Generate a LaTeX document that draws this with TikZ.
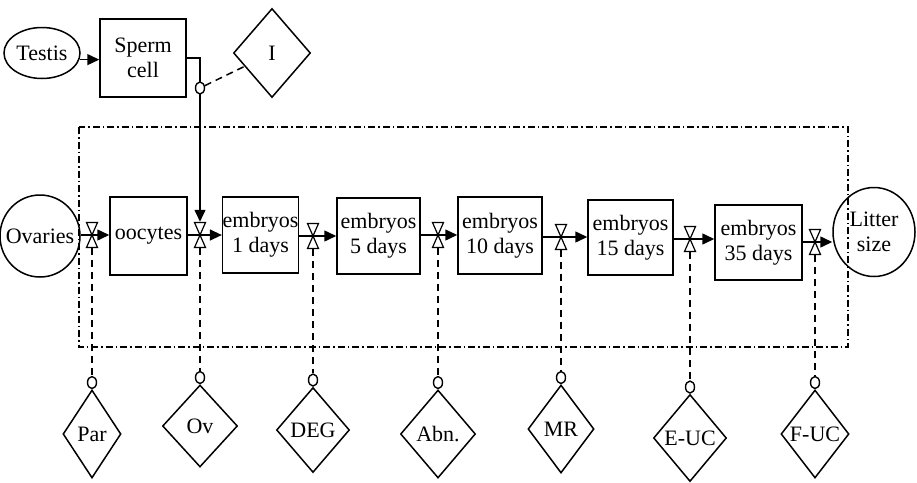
\documentclass[tikz,border=0pt]{standalone}
\usepackage{fontspec}
\setmainfont{Liberation Serif}
\usetikzlibrary{shapes.geometric,arrows.meta}
\begin{document}
\begin{tikzpicture}[x=1pt,y=-1pt,
  every node/.style={font=\fontsize{22}{25}\selectfont, align=center, inner sep=0pt, line width=1.5pt},
  box/.style={draw, rectangle},
  oval/.style={draw, ellipse},
  gate/.style={draw, diamond},
  port/.style={draw, ellipse, fill=white, minimum width=9pt, minimum height=12pt, line width=1.4pt},
  vnode/.style={minimum width=10pt, minimum height=25pt},
  flow/.style={line width=1.5pt, -{Triangle[length=12pt,width=11pt]}},
  ctl/.style={line width=1.5pt, dash pattern=on 7pt off 5pt},
  border/.style={line width=1.2pt, dash pattern=on 7pt off 3pt on 1.5pt off 3pt},
  bowtie/.pic={\draw[line width=1.2pt, fill=white] (-5.5,-12.5) -- (5.5,-12.5) -- (0,0) -- cycle (-5.5,12.5) -- (5.5,12.5) -- (0,0) -- cycle;}
]
\useasboundingbox (0,0) rectangle (917,482);
\draw[border] (79,127) rectangle (848,347);

% top row
\node[oval, minimum width=76pt, minimum height=51pt] (testis) at (42,53) {\makebox[0pt]{Testis}};
\node[box, minimum width=86pt, minimum height=78pt] (sperm) at (143,58) {Sperm\\cell};
\node[gate, minimum width=77pt, minimum height=89pt] (idiam) at (272,53) {I};

% main row
\node[oval, minimum width=80pt, minimum height=82pt] (ovaries) at (40,236) {\makebox[0pt]{Ovaries}};
\node[box, minimum width=77pt, minimum height=78pt] (oocytes) at (148.5,236) {oocytes};
\node[box, minimum width=75pt, minimum height=76pt] (e1) at (260.5,235) {embryos\\1 days};
\node[box, minimum width=83pt, minimum height=76pt] (e5) at (378.5,236) {embryos\\5 days};
\node[box, minimum width=84pt, minimum height=77pt] (e10) at (500,235.5) {embryos\\10 days};
\node[box, minimum width=85pt, minimum height=75pt] (e15) at (630.5,237.5) {embryos\\15 days};
\node[box, minimum width=87pt, minimum height=75pt] (e35) at (758.5,242.5) {embryos\\35 days};
\node[oval, minimum width=82pt, minimum height=89pt] (litter) at (874,232) {Litter\\size};

% valves
\node[vnode] (v1) at (92,235) {};
\node[vnode] (v2) at (200,235) {};
\node[vnode] (v3) at (313,236) {};
\node[vnode] (v4) at (438,235) {};
\node[vnode] (v5) at (561,237) {};
\node[vnode] (v6) at (690,239) {};
\node[vnode] (v7) at (815,242) {};

% flows
\draw[flow] (testis.-10) -- (testis.-10 -| sperm.west);
\draw[flow] (v1 -| ovaries.east) -- (v1 -| oocytes.west);
\draw[flow] (v2 -| oocytes.east) -- (v2 -| e1.west);
\draw[flow] (v3 -| e1.east) -- (v3 -| e5.west);
\draw[flow] (v4 -| e5.east) -- (v4 -| e10.west);
\draw[flow] (v5 -| e10.east) -- (v5 -| e15.west);
\draw[flow] (v6 -| e15.east) -- (v6 -| e35.west);
\draw[flow] (v7 -| e35.east) -- (v7 -| litter.west);
\draw[flow] (sperm.east) -| (v2.north);

\foreach \v in {v1,v2,v3,v4,v5,v6,v7} \pic at (\v) {bowtie};

% insemination control
\node[port] (ci) at (200,88) {};
\draw[ctl] (ci) -- (idiam);

% bottom controls
\foreach \n/\x/\y/\w/\h/\t/\v in {par/92/434/58/88/Par/v1, ov/200/426/75/82/Ov/v2, deg/313/430/73/85/DEG/v3, abn/438/434/75/88/Abn./v4, mr/561/429/66/88/MR/v5, euc/690/438/73/87/E-UC/v6, fuc/815/434/68/88/F-UC/v7}{
  \node[gate, minimum width=\w pt, minimum height=\h pt] (\n) at (\x,\y) {\t};
  \node[port, anchor=south] (c\n) at (\n.north) {};
  \draw[ctl] (\v.south) -- (c\n);
}
\end{tikzpicture}
\end{document}
